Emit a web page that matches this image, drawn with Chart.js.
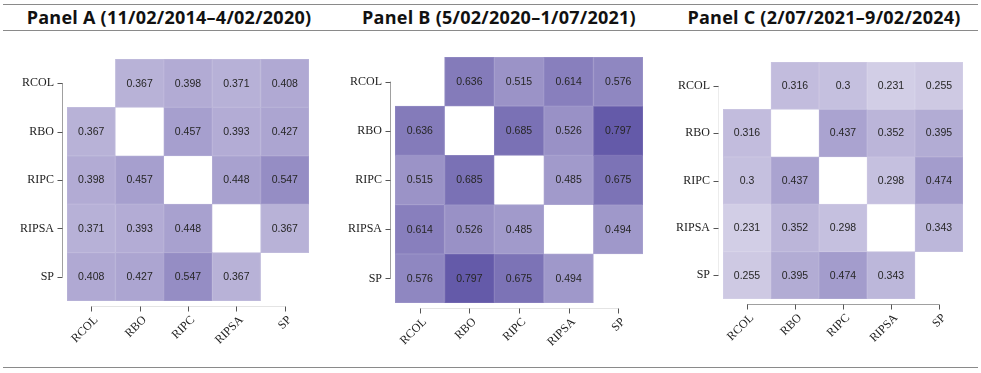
<!DOCTYPE html>
<html>
<head>
<meta charset="utf-8">
<script src="https://cdn.jsdelivr.net/npm/chart.js@4/dist/chart.umd.min.js"></script>
<style>
  html, body { margin: 0; padding: 0; background: #fff; }
  #wrap { position: relative; width: 981px; height: 373px; overflow: hidden; }
  .hline { position: absolute; left: 3px; width: 975px; height: 0; border-top: 1.5px solid #8a8a8a; }
  .title { position: absolute; top: 5px; height: 24px; line-height: 24px; width: 330px; text-align: center;
           font-family: "Open Sans", sans-serif; font-weight: 700; font-size: 18px; letter-spacing: 0.25px;
           color: #111; white-space: nowrap; }
  canvas { position: absolute; top: 35px; }
</style>
</head>
<body>
<div id="wrap">
  <div class="hline" style="top:4px"></div>
  <div class="hline" style="top:30px"></div>
  <div class="hline" style="top:367px"></div>
  <div class="title" id="tA" style="left:4px"></div>
  <div class="title" id="tB" style="left:334px"></div>
  <div class="title" id="tC" style="left:659px"></div>
  <canvas id="cA" width="327" height="330" style="left:0px;width:327px;height:330px"></canvas>
  <canvas id="cB" width="327" height="330" style="left:327px;width:327px;height:330px"></canvas>
  <canvas id="cC" width="327" height="330" style="left:654px;width:327px;height:330px"></canvas>
</div>
<script>
// ---- data ----
const variables = ["RCOL", "RBO", "RIPC", "RIPSA", "SP"];
const panelTitles = [
  "Panel A (11/02/2014\u20134/02/2020)",
  "Panel B (5/02/2020\u20131/07/2021)",
  "Panel C (2/07/2021\u20139/02/2024)"
];
const panelA = [
  [null, 0.367, 0.398, 0.371, 0.408],
  [0.367, null, 0.457, 0.393, 0.427],
  [0.398, 0.457, null, 0.448, 0.547],
  [0.371, 0.393, 0.448, null, 0.367],
  [0.408, 0.427, 0.547, 0.367, null]
];
const panelB = [
  [null, 0.636, 0.515, 0.614, 0.576],
  [0.636, null, 0.685, 0.526, 0.797],
  [0.515, 0.685, null, 0.485, 0.675],
  [0.614, 0.526, 0.485, null, 0.494],
  [0.576, 0.797, 0.675, 0.494, null]
];
const panelC = [
  [null, 0.316, 0.3, 0.231, 0.255],
  [0.316, null, 0.437, 0.352, 0.395],
  [0.3, 0.437, null, 0.298, 0.474],
  [0.231, 0.352, 0.298, null, 0.343],
  [0.255, 0.395, 0.474, 0.343, null]
];

// ---- styling helpers ----
function cellRGB(v) {
  return [255 - 194 * v, 253 - 205 * v, 255 - 108 * v];
}
function cellColor(v) {
  const c = cellRGB(v).map(Math.round);
  return `rgb(${c[0]},${c[1]},${c[2]})`;
}
function edgeColor(v) {
  const c = cellRGB(v).map(x => Math.round(x + (255 - x) * 0.12));
  return `rgb(${c[0]},${c[1]},${c[2]})`;
}

const cellLabels = {
  id: 'cellLabels',
  afterDatasetsDraw(chart) {
    const ctx = chart.ctx;
    ctx.save();
    ctx.font = '10.5px "Liberation Sans", Arial, sans-serif';
    ctx.fillStyle = '#262626';
    ctx.textAlign = 'center';
    ctx.textBaseline = 'middle';
    chart.data.datasets.forEach((ds, di) => {
      const meta = chart.getDatasetMeta(di);
      meta.data.forEach((bar, i) => {
        const v = ds.values[i];
        if (v == null) return;
        const p = bar.getCenterPoint();
        ctx.fillText(String(v), p.x, p.y + 0.5);
      });
    });
    ctx.restore();
  }
};

const trimmedAxes = {
  id: 'trimmedAxes',
  afterDraw(chart, args, opts) {
    const ctx = chart.ctx;
    const ca = chart.chartArea;
    const xs = chart.scales.x, ys = chart.scales.y;
    const off = 5, tl = 5;
    ctx.save();
    ctx.lineWidth = 1;
    const yFirst = ys.getPixelForValue(0), yLast = ys.getPixelForValue(variables.length - 1);
    const lx = Math.round(ca.left - off) + 0.5;
    ctx.strokeStyle = opts.yLine;
    ctx.beginPath(); ctx.moveTo(lx, yFirst); ctx.lineTo(lx, yLast); ctx.stroke();
    const xFirst = xs.getPixelForValue(0), xLast = xs.getPixelForValue(variables.length - 1);
    const ly = Math.round(ca.bottom + off) + 0.5;
    ctx.strokeStyle = opts.xLine;
    ctx.beginPath(); ctx.moveTo(xFirst, ly); ctx.lineTo(xLast, ly); ctx.stroke();
    ctx.strokeStyle = '#555';
    variables.forEach((_, i) => {
      const y = Math.round(ys.getPixelForValue(i)) + 0.5;
      ctx.beginPath(); ctx.moveTo(lx - tl, y); ctx.lineTo(lx, y); ctx.stroke();
      const x = Math.round(xs.getPixelForValue(i)) + 0.5;
      ctx.beginPath(); ctx.moveTo(x, ly); ctx.lineTo(x, ly + tl); ctx.stroke();
    });
    ctx.restore();
  }
};

function makePanel(canvasId, matrix, area, axisColors) {
  const W = 327, H = 330;
  const datasets = matrix.map((row, r) => ({
    label: variables[r],
    data: row.map(v => v == null ? null : [r - 0.5, r + 0.5]),
    values: row,
    backgroundColor: row.map(v => v == null ? 'rgba(0,0,0,0)' : cellColor(v)),
    borderColor: row.map(v => v == null ? 'rgba(0,0,0,0)' : edgeColor(v)),
    borderWidth: 1,
    borderSkipped: false,
    grouped: false,
    barPercentage: 1,
    categoryPercentage: 1
  }));
  const serif = { family: '"Liberation Serif", "DejaVu Serif", serif', size: 12 };
  return new Chart(document.getElementById(canvasId), {
    type: 'bar',
    data: { labels: variables, datasets },
    options: {
      responsive: false,
      animation: false,
      events: [],
      layout: { padding: { left: 0, top: area.top, right: W - area.right, bottom: 0 } },
      plugins: {
        legend: { display: false },
        tooltip: { enabled: false },
        trimmedAxes: axisColors
      },
      scales: {
        x: {
          type: 'category',
          offset: true,
          grid: { display: false, drawTicks: false },
          border: { display: false },
          ticks: { font: serif, color: '#222', minRotation: 45, maxRotation: 45, padding: 12, labelOffset: 5 },
          afterFit: s => { s.height = H - area.bottom; }
        },
        y: {
          type: 'linear',
          reverse: true,
          min: -0.5,
          max: variables.length - 0.5,
          grid: { display: false, drawTicks: false },
          border: { display: false },
          afterBuildTicks: s => { s.ticks = variables.map((_, i) => ({ value: i })); },
          ticks: { font: serif, color: '#222', padding: 13, autoSkip: false,
                   callback: v => variables[v] },
          afterFit: s => { s.width = area.left; }
        }
      }
    },
    plugins: [cellLabels, trimmedAxes]
  });
}

document.getElementById('tA').textContent = panelTitles[0];
document.getElementById('tB').textContent = panelTitles[1];
document.getElementById('tC').textContent = panelTitles[2];

makePanel('cA', panelA, { left: 67, right: 309, top: 24, bottom: 266 }, { yLine: '#a0a0a0', xLine: '#e4e4e4' });
makePanel('cB', panelB, { left: 68, right: 316, top: 22, bottom: 268 }, { yLine: '#a0a0a0', xLine: '#e4e4e4' });
makePanel('cC', panelC, { left: 69, right: 309, top: 27, bottom: 264 }, { yLine: '#ececec', xLine: '#a0a0a0' });
</script>
</body>
</html>
